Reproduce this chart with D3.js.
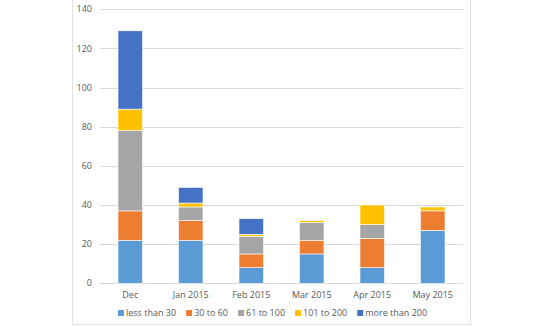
<!DOCTYPE html>
<html><head><meta charset="utf-8">
<script src="https://cdn.jsdelivr.net/npm/d3@7"></script>
<style>body{margin:0;background:#fff;} text{font-family:"Open Sans","Noto Sans",sans-serif;}</style>
</head><body>
<svg id="c" width="544" height="326"></svg>
<script>
const categories = ["Dec","Jan 2015","Feb 2015","Mar 2015","Apr 2015","May 2015"];
const seriesNames = ["less than 30","30 to 60","61 to 100","101 to 200","more than 200"];
const lessThan30 = [22,22,8,15,8,27];
const from30to60 = [15,10,7,7,15,10];
const from61to100 = [41,7,9,9,7,0];
const from101to200 = [11,2,1,1,10,2];
const moreThan200 = [40,8,8,0,0,0];
const yTicks = [0,20,40,60,80,100,120,140];
const colors = ["#5B9BD5","#ED7D31","#A5A5A5","#FFC000","#4472C4"];

const seriesValues = [lessThan30, from30to60, from61to100, from101to200, moreThan200];
const rows = categories.map((c,i)=>{const r={cat:c}; seriesNames.forEach((s,j)=>r[s]=seriesValues[j][i]); return r;});

const svg = d3.select("#c");
// chart border
svg.append("rect").attr("x",72.5).attr("y",-2).attr("width",398).attr("height",326.5)
  .attr("fill","none").attr("stroke","#e3e3e3").attr("stroke-width",1);

const x = d3.scaleBand().domain(categories).range([100,463]).paddingInner(0.595).paddingOuter(0.2975);
const y = d3.scaleLinear().domain([0,140]).range([283.3,9.3]);

const g = svg.append("g");
g.selectAll("line.grid").data(yTicks).join("line")
  .attr("x1",100).attr("x2",463).attr("y1",d=>Math.round(y(d))+0.5).attr("y2",d=>Math.round(y(d))+0.5)
  .attr("stroke","#d9d9d9").attr("stroke-width",1);
g.selectAll("text.yt").data(yTicks).join("text")
  .attr("x",92).attr("y",d=>y(d)).attr("dy","0.35em").attr("text-anchor","end")
  .attr("font-size",9).attr("fill","#595959").text(d=>d);

const stack = d3.stack().keys(seriesNames)(rows);
g.selectAll("g.s").data(stack).join("g").attr("fill",(d,i)=>colors[i])
  .selectAll("rect").data(d=>d).join("rect")
  .attr("x",d=>x(d.data.cat)).attr("width",x.bandwidth())
  .attr("y",d=>y(d[1])).attr("height",d=>Math.max(0,y(d[0])-y(d[1])))
  .attr("stroke","#ffffff").attr("stroke-width",d=>(d[1]-d[0])>0?0.6:0);

const xAxis = d3.axisBottom(x).tickSize(0).tickPadding(0);
const xa = svg.append("g").attr("transform","translate(0,292)").call(xAxis);
xa.select(".domain").remove();
xa.selectAll("text").attr("font-size",9).attr("fill","#595959").attr("dy","0.71em")
  .style("font-family",'"Open Sans","Noto Sans",sans-serif');

// legend
const lg = svg.append("g");
let lx = 118;
seriesNames.forEach((s,i)=>{
  lg.append("rect").attr("x",lx).attr("y",310).attr("width",6).attr("height",6).attr("fill",colors[i]);
  const t = lg.append("text").attr("x",lx+8).attr("y",313).attr("dy","0.35em")
    .attr("font-size",9).attr("fill","#595959").text(s);
  lx += 8 + t.node().getComputedTextLength() + 10;
});
</script>
</body></html>
